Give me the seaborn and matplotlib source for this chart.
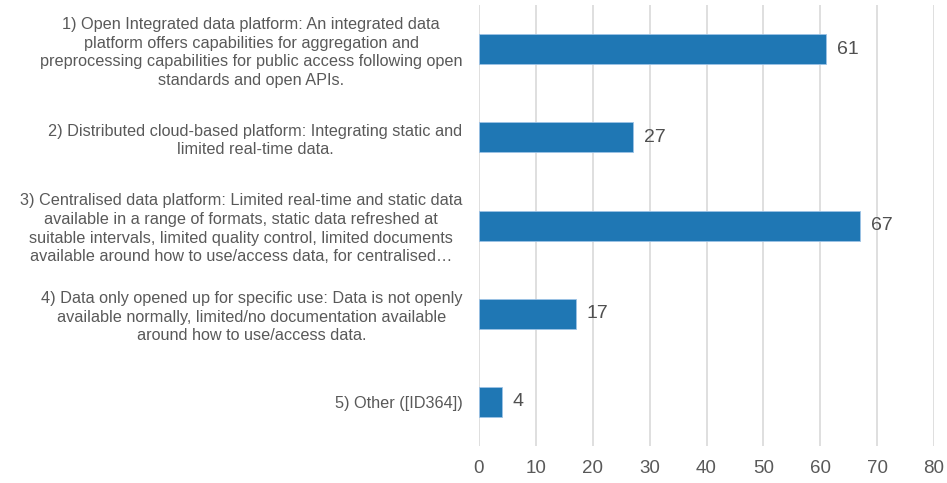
import matplotlib
matplotlib.use("Agg")
import matplotlib.pyplot as plt
import seaborn as sns
import pandas as pd

# Category labels (line breaks as in the source chart)
categories = [
    "1) Open Integrated data platform: An integrated data\nplatform offers capabilities for aggregation and\npreprocessing capabilities for public access following open\nstandards and open APIs.",
    "2) Distributed cloud-based platform: Integrating static and\nlimited real-time data.",
    "3) Centralised data platform: Limited real-time and static data\navailable in a range of formats, static data refreshed at\nsuitable intervals, limited quality control, limited documents\navailable around how to use/access data, for centralised\u2026",
    "4) Data only opened up for specific use: Data is not openly\navailable normally, limited/no documentation available\naround how to use/access data.",
    "5) Other ([ID364])",
]
counts = [61, 27, 67, 17, 4]
x_ticks = [0, 10, 20, 30, 40, 50, 60, 70, 80]

df = pd.DataFrame({"category": categories, "count": counts})

sns.set_style("white")
plt.rcParams["font.family"] = ["Liberation Sans", "DejaVu Sans"]

text_grey = "#595959"

fig = plt.figure(figsize=(9.47, 4.83), dpi=100)
ax = fig.add_axes([0.5058, 0.0766, 0.4805, 0.913])

sns.barplot(data=df, x="count", y="category", orient="h", color="#1f77b4",
            saturation=1, width=0.34, edgecolor="#9dc3e6", linewidth=0.6, ax=ax)

# value labels at the end of each bar
for container in ax.containers:
    ax.bar_label(container, padding=8, fontsize=14, color="#505050")

ax.set_xlim(0, 80)
ax.set_xticks(x_ticks)
ax.xaxis.grid(True, color="#d9d9d9", linewidth=1.2)
ax.set_axisbelow(True)
for s in ax.spines.values():
    s.set_visible(False)

ax.set_xlabel("")
ax.set_ylabel("")
ax.tick_params(axis="x", length=0, pad=10, labelsize=13.5, labelcolor=text_grey)
ax.tick_params(axis="y", length=0, pad=12, labelsize=11.7, labelcolor=text_grey)
for lbl in ax.get_yticklabels():
    lbl.set_multialignment("center")
    lbl.set_linespacing(1.3)

fig.savefig("out.png", dpi=100)
